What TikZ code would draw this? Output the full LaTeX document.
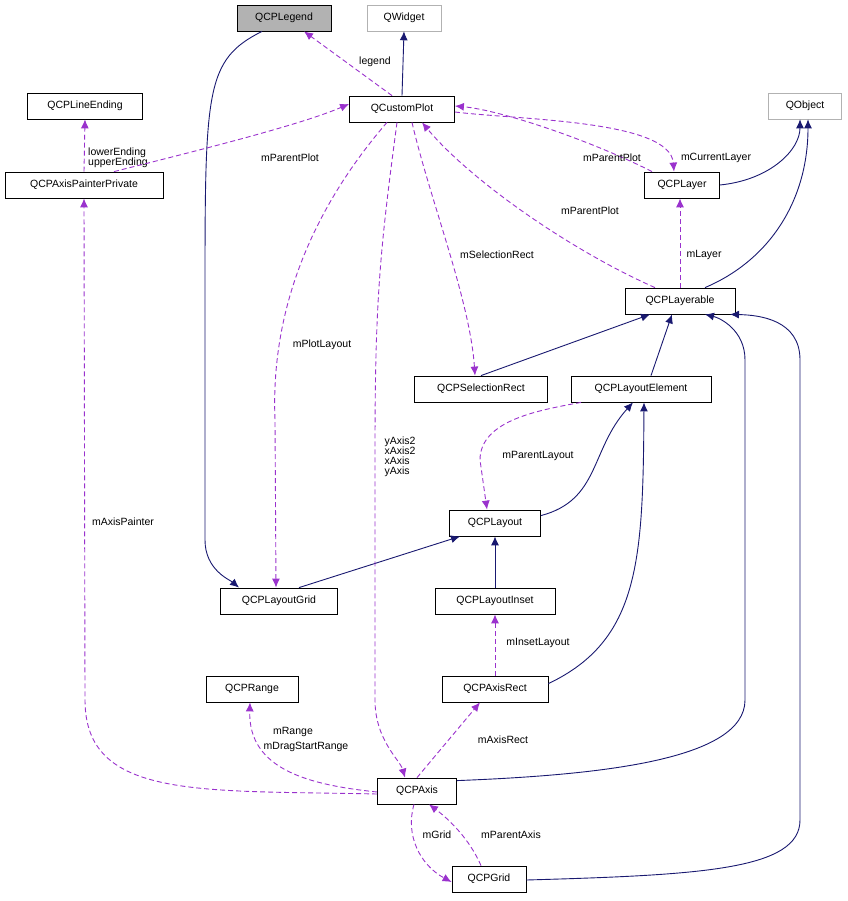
\documentclass[tikz,border=0pt]{standalone}
\usepackage{fontspec}
\setmainfont{Liberation Sans}
\usetikzlibrary{arrows.meta}
\definecolor{usec}{HTML}{9A32CD}
\definecolor{inhc}{HTML}{191970}
\begin{document}
\begin{tikzpicture}[x=1pt,y=-1pt,font=\fontsize{10.5}{12}\selectfont,
 box/.style={draw=black,fill=white,minimum height=26pt,inner sep=0pt,line width=0.8pt},
 grey/.style={draw=gray!60,line width=0.6pt},
 inh/.style={draw=inhc,line width=0.9pt,-{Latex[length=9pt,width=8pt]}},
 use/.style={draw=usec,line width=0.9pt,dashed,dash pattern=on 5pt off 3pt,-{Latex[length=9pt,width=8pt]}},
 lbl/.style={inner sep=1pt,align=left}]
\useasboundingbox (0,0) rectangle (847,901);
\node[box,fill=gray!60,minimum width=94pt] (legend) at (284,18) {QCPLegend};
\node[box,grey,minimum width=74pt] (qwidget) at (404,18) {QWidget};
\node[box,minimum width=105pt] (cp) at (402,109) {QCustomPlot};
\node[box,minimum width=115pt] (le) at (85,106) {QCPLineEnding};
\node[box,grey,minimum width=73pt] (qobj) at (805,106) {QObject};
\node[box,minimum width=158pt] (app) at (84,185) {QCPAxisPainterPrivate};
\node[box,minimum width=75pt] (layer) at (682,185) {QCPLayer};
\node[box,minimum width=110pt] (lable) at (680,301) {QCPLayerable};
\node[box,minimum width=133pt] (sel) at (481,389) {QCPSelectionRect};
\node[box,minimum width=140pt] (lel) at (641,389) {QCPLayoutElement};
\node[box,minimum width=91pt] (lay) at (495,523) {QCPLayout};
\node[box,minimum width=117pt] (grid) at (279,601) {QCPLayoutGrid};
\node[box,minimum width=120pt] (inset) at (495,601) {QCPLayoutInset};
\node[box,minimum width=92pt] (range) at (252,689) {QCPRange};
\node[box,minimum width=106pt] (arect) at (495,689) {QCPAxisRect};
\node[box,minimum width=79pt] (axis) at (417,791) {QCPAxis};
\node[box,minimum width=74pt] (qgrid) at (489,879) {QCPGrid};

% inheritance
\draw[inh] (cp.north) -- (qwidget.south);
\draw[inh] ([xshift=-22pt]legend.south) .. controls (205,60) and (205,90) .. (205,300) -- (205,540) .. controls (205,570) and (230,580) .. ([xshift=-40pt]grid.north);
\draw[inh] (layer.east) .. controls (770,180) and (800,150) .. ([xshift=-5pt]qobj.south);
\draw[inh] ([xshift=25pt]lable.north) .. controls (770,260) and (808,200) .. ([xshift=3pt]qobj.south);
\draw[inh] (sel.north) -- ([xshift=-30pt]lable.south);
\draw[inh] ([xshift=10pt]lel.north) -- ([xshift=-8pt]lable.south);
\draw[inh] ([yshift=-6pt]lay.north east) .. controls (600,500) and (590,450) .. ([xshift=-8pt]lel.south);
\draw[inh] ([xshift=20pt]grid.north) -- ([xshift=-35pt]lay.south);
\draw[inh] (inset.north) -- (lay.south);
\draw[inh] ([yshift=-8pt]arect.north east) .. controls (640,640) and (643,560) .. ([xshift=3pt]lel.south);
\draw[inh] ([yshift=-3pt]axis.north east) .. controls (600,775) and (745,760) .. (745,700) -- (745,360) .. controls (745,330) and (720,318) .. ([xshift=25pt]lable.south);
\draw[inh] ([yshift=-1pt]qgrid.east) .. controls (700,875) and (800,870) .. (800,820) -- (800,360) .. controls (800,320) and (760,315) .. ([xshift=50pt]lable.south);

% usage
\draw[use] ([xshift=-10pt]cp.north) -- ([xshift=20pt]legend.south);
\node[lbl] at (375,62) {legend};
\draw[use] (app.north) -- (le.south);
\node[lbl,anchor=west] at (87,158) {lowerEnding\\[-2pt]upperEnding};
\draw[use] ([xshift=30pt]app.north) .. controls (200,150) and (300,125) .. ([yshift=5pt]cp.west);
\node[lbl] at (290,158) {mParentPlot};
\draw[use] ([xshift=-30pt]layer.north) .. controls (590,140) and (500,110) .. ([yshift=3pt]cp.east);
\node[lbl] at (612,158) {mParentPlot};
\draw[use] ([yshift=-3pt]cp.east) .. controls (520,120) and (670,120) .. ([xshift=-8pt]layer.north);
\node[lbl] at (716,158) {mCurrentLayer};
\draw[use] ([xshift=-25pt]lable.north) .. controls (570,250) and (470,180) .. ([xshift=20pt]cp.south);
\node[lbl] at (590,211) {mParentPlot};
\draw[use] (lable.north) -- ([xshift=-2pt]layer.south);
\node[lbl] at (704,255) {mLayer};
\draw[use] ([xshift=10pt]cp.south) .. controls (430,200) and (470,300) .. ([xshift=-6pt]sel.north);
\node[lbl] at (497,255) {mSelectionRect};
\draw[use] ([xshift=-15pt]cp.south) .. controls (320,200) and (270,300) .. (275,420) -- ([xshift=-3pt]grid.north);
\node[lbl] at (322,345) {mPlotLayout};
\draw[use] ([xshift=-5pt]cp.south) .. controls (380,250) and (375,300) .. (375,450) -- (375,700) .. controls (375,740) and (400,760) .. ([xshift=-12pt]axis.north);
\node[lbl] at (400,457) {yAxis2\\[-2pt]xAxis2\\[-2pt]xAxis\\[-2pt]yAxis};
\draw[use] ([xshift=-60pt]lel.south) .. controls (540,410) and (480,420) .. (480,460) -- ([xshift=-8pt]lay.north);
\node[lbl] at (538,456) {mParentLayout};
\draw[use] (arect.north) -- (inset.south);
\node[lbl] at (538,643) {mInsetLayout};
\draw[use] ([yshift=-3pt]axis.west) .. controls (200,790) and (85,800) .. (85,700) -- (app.south);
\node[lbl] at (123,522) {mAxisPainter};
\draw[use] ([yshift=-1pt]axis.west) .. controls (310,785) and (248,770) .. ([xshift=-2pt]range.south);
\node[lbl] at (293,732) {mRange};
\node[lbl] at (306,747) {mDragStartRange};
\draw[use] ([xshift=0pt]axis.north) -- ([xshift=-15pt]arect.south);
\node[lbl] at (503,740) {mAxisRect};
\draw[use] ([xshift=-3pt]axis.south) .. controls (405,835) and (420,865) .. ([yshift=-3pt]qgrid.west);
\node[lbl] at (437,835) {mGrid};
\draw[use] ([xshift=-8pt]qgrid.north) .. controls (470,840) and (450,820) .. ([xshift=12pt]axis.south);
\node[lbl] at (511,835) {mParentAxis};
\end{tikzpicture}
\end{document}
